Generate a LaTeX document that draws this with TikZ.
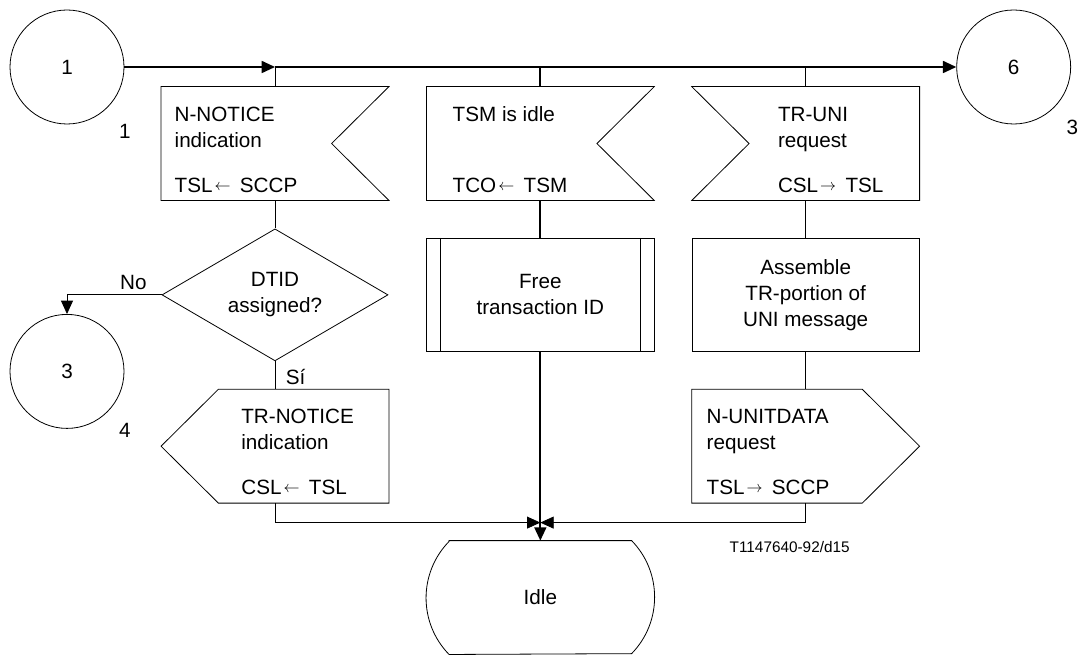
\documentclass[tikz,border=0pt]{standalone}
\usepackage{fontspec}
\setmainfont{Liberation Sans}
\usetikzlibrary{positioning}
\usetikzlibrary{shapes.geometric}
\usetikzlibrary{arrows.meta}

\newcommand{\toLeft}{\hspace{1.5pt}\raisebox{1.5pt}{\fontsize{12}{12}\selectfont$\leftarrow$}\hspace{7pt}}
\newcommand{\toRight}{\hspace{1.5pt}\raisebox{1.5pt}{\fontsize{12}{12}\selectfont$\rightarrow$}\hspace{7pt}}

% #1 name, #2 placement, #3 text, #4 text indent, #5 notch side (1 east, -1 west)
\newcommand{\insignal}[5]{
    \begin{scope}
        \pgfmathsetmacro{\eastCut}{(#5>0)*\sigDepth}
        \pgfmathsetmacro{\westCut}{(#5<0)*\sigDepth}
        \node (#1) [sigframe, #2] {};
        \draw [shape line] (#1.north west) -- (#1.north east) -- ([xshift=-\eastCut pt]#1.east) -- (#1.south east) -- (#1.south west) -- ([xshift=\westCut pt]#1.west) -- cycle;
        \node (#1_text) [sigtext, below right=\textDrop pt and #4pt of #1.north west] {#3};
    \end{scope}
}
% #1 name, #2 placement, #3 text, #4 text indent, #5 point side (1 east, -1 west)
\newcommand{\outsignal}[5]{
    \begin{scope}
        \pgfmathsetmacro{\eastCut}{(#5>0)*\sigDepth}
        \pgfmathsetmacro{\westCut}{(#5<0)*\sigDepth}
        \node (#1) [sigframe, #2] {};
        \draw [shape line] ([xshift=\westCut pt]#1.north west) -- ([xshift=-\eastCut pt]#1.north east) -- (#1.east) -- ([xshift=-\eastCut pt]#1.south east) -- ([xshift=\westCut pt]#1.south west) -- (#1.west) -- cycle;
        \node (#1_text) [sigtext, below right=\textDrop pt and #4pt of #1.north west] {#3};
    \end{scope}
}

\begin{document}
\begin{tikzpicture}[inner sep=0pt, align=center, font=\fontsize{15.5}{19.5}\selectfont,
    shape line/.style={line width=0.6pt},
    flow/.style={line width=0.6pt},
    mainflow/.style={line width=1.3pt},
    arrowed/.style={-{Triangle[length=10pt, width=9pt]}},
    sigframe/.style={rectangle, minimum width=\boxWidth pt, minimum height=\boxHeight pt},
    sigtext/.style={align=left},
    connector/.style={circle, draw, shape line, minimum size=85.5pt},
    task/.style={rectangle, draw, shape line, minimum width=\boxWidth pt, minimum height=\boxHeight pt},
    decision/.style={diamond, draw, shape line, aspect=1.7, minimum width=169.5pt, minimum height=99pt}]
    \pgfmathsetmacro{\boxWidth}{170.5}
    \pgfmathsetmacro{\boxHeight}{85}
    \pgfmathsetmacro{\sigDepth}{43}
    \pgfmathsetmacro{\textDrop}{15}
    \pgfmathsetmacro{\colGap}{199}
    \pgfmathsetmacro{\rowGap}{113.5}

    \useasboundingbox (0,0) rectangle (810.75pt,-491.25pt);

    \node (c1) [connector] at (50.25pt,-50.25pt) {1};
    \node (c1_num) [below right=12pt and 8.5pt of c1.south east] {1};

    \insignal{nnotice}{below right=57.4pt and 156pt of c1.center, anchor=center}{N-NOTICE\\indication\\[14.25pt]TSL\toLeft SCCP}{10}{1}
    \insignal{tsmidle}{right=\colGap pt of nnotice.center, anchor=center}{TSM is idle\\[33.5pt]TCO\toLeft TSM}{19.5}{1}
    \insignal{truni}{right=\colGap pt of tsmidle.center, anchor=center}{TR-UNI\\request\\[14.25pt]CSL\toRight TSL}{64.5}{-1}

    \node (c6) [connector, above right=57.4pt and 156pt of truni.center, anchor=center] {6};
    \node (c6_num) [below right=9pt and 9pt of c6.south east] {3};

    \node (dtid) [decision, below=\rowGap pt of nnotice.center, anchor=center] {DTID\\assigned?};
    \node (freeid) [task, below=\rowGap pt of tsmidle.center, anchor=center] {Free\\transaction ID};
    \draw [shape line] ([xshift=10.5pt]freeid.north west) -- ([xshift=10.5pt]freeid.south west);
    \draw [shape line] ([xshift=-10.5pt]freeid.north east) -- ([xshift=-10.5pt]freeid.south east);
    \node (assemble) [task, below=\rowGap pt of truni.center, anchor=center] {Assemble\\TR-portion of\\UNI message};

    \node (c3) [connector, below left=57.4pt and 156pt of dtid.center, anchor=center] {3};
    \node (c3_num) [below right=8pt and 8.5pt of c3.south east] {4};
    \node (no_label) [above left=3.75pt and 11pt of dtid.west] {No};
    \node (si_label) [below right=6pt and 8pt of dtid.south] {Sí};

    \outsignal{trnotice}{below=\rowGap pt of dtid.center, anchor=center}{TR-NOTICE\\indication\\[14.25pt]CSL\toLeft TSL}{60}{-1}
    \outsignal{nunitdata}{below=\rowGap pt of assemble.center, anchor=center}{N-UNITDATA\\request\\[14.25pt]TSL\toRight SCCP}{11}{1}

    \node (idle) [sigframe, below=2*\rowGap pt of freeid.center, anchor=center] {Idle};
    \draw [shape line] ([xshift=17pt]idle.north west) -- ([xshift=-17pt]idle.north east) arc[start angle=44.3, end angle=-44.3, radius=60.7pt] -- ([xshift=17pt]idle.south west) arc[start angle=224.3, end angle=135.7, radius=60.7pt] -- cycle;

    \node (fig_id) [font=\fontsize{11.5}{14}\selectfont, below left=33pt and 12pt of nunitdata.south, anchor=center] {T1147640-92/d15};

    \coordinate (split_left) at (nnotice.north |- c1.east);
    \coordinate (split_mid) at (tsmidle.north |- c1.east);
    \coordinate (split_right) at (truni.north |- c1.east);
    \coordinate (merge) at ([yshift=13.5pt]idle.north);

    \draw [mainflow, arrowed] (c1.east) -- (split_left);
    \draw [mainflow, arrowed] (split_left) -- (c6.west);
    \draw [flow] (split_left) -- (nnotice.north);
    \draw [mainflow] (split_mid) -- (tsmidle.north);
    \draw [flow] (split_right) -- (truni.north);

    \draw [flow] (nnotice.south) -- (dtid.north);
    \draw [flow, arrowed] (dtid.west) -| (c3.north);
    \draw [flow] (dtid.south) -- (trnotice.north);
    \draw [mainflow] (tsmidle.south) -- (freeid.north);
    \draw [flow] (truni.south) -- (assemble.north);
    \draw [flow] (assemble.south) -- (nunitdata.north);

    \draw [flow, arrowed] (trnotice.south) |- (merge);
    \draw [flow, arrowed] (nunitdata.south) |- (merge);
    \draw [mainflow, arrowed] (freeid.south) -- (idle.north);
\end{tikzpicture}
\end{document}
